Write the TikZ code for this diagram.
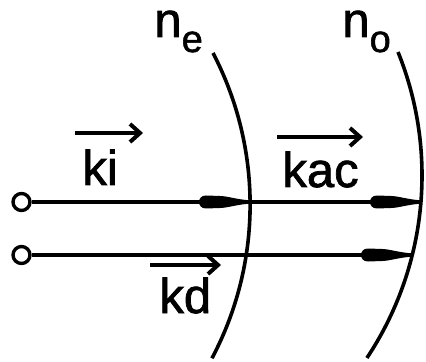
\documentclass[tikz,border=0pt]{standalone}
\usepackage{fontspec}
\setmainfont[FakeBold=1.5]{Liberation Sans}
\usetikzlibrary{arrows.meta,calc}
\begin{document}
\begin{tikzpicture}[x=0.5pt,y=-0.5pt,
  ray/.style={line width=2pt},
  raytip/.pic={\fill (-4,-2) .. controls (-14,-3) and (-24,-6) .. (-30,-6) -- (-44,-6.5)
      .. controls (-49,-6.5) and (-51,-3) .. (-51,0) .. controls (-51,3) and (-49,6.5) .. (-44,6.5)
      -- (-30,6) .. controls (-24,6) and (-14,3) .. (-4,2) -- cycle;},
  surface/.style={line width=1.8pt},
  vec/.style={line width=2pt,-{Straight Barb[length=5pt,width=9pt]}},
  lbl/.style={font=\fontsize{24.5}{24.5}\selectfont,inner sep=0pt,anchor=base west},
  src/.style={circle,draw,line width=1.7pt,minimum size=8.5pt,inner sep=0pt,fill=white}]
\fill[white] (0,0) rectangle (426,362);
\useasboundingbox (0,0) rectangle (426,362);
% surfaces
\coordinate (neTop) at (213,53);
\coordinate (noTop) at (398,52);
\draw[surface] (neTop) arc[start angle=27.5,end angle=-27.9,radius=164.2pt] coordinate (neBot);
\draw[surface] (noTop) arc[start angle=22.0,end angle=-33.6,radius=164.85pt] coordinate (noBot);
% intersection points
\coordinate (e1) at (250,202);
\coordinate (o1) at (421,202);
\coordinate (o2) at (412,255);
% sources
\node[src] (s1) at (21.5,202) {};
\node[src] (s2) at (21.5,255) {};
% rays
\draw[ray] (s1) -- (e1);
\draw[ray] (e1) -- (o1);
\draw[ray] (s2) -- (o2);
\pic at (e1) {raytip};
\pic at (o1) {raytip};
\pic at (o2) {raytip};
% labels
\node[lbl] (ne) at (154,37) {n\raisebox{-7.5pt}{\fontsize{19}{19}\selectfont e}};
\node[lbl] (no) at (342,37) {n\raisebox{-7.5pt}{\fontsize{19}{19}\selectfont o}};
\node[lbl] (ki) at (82,185) {ki};
\node[lbl] (kac) at (282,187) {kac};
\node[lbl] (kd) at (159,313) {kd};
% vector arrows
\draw[vec] ($(ki.base west)+(-7,-52)$) -- ($(ki.base west)+(61,-52)$);
\draw[vec] ($(kac.base west)+(-5,-50)$) -- ($(kac.base west)+(81,-50)$);
\draw[vec] ($(kd.base west)+(-9,-48)$) -- ($(kd.base west)+(62,-48)$);
\end{tikzpicture}
\end{document}
